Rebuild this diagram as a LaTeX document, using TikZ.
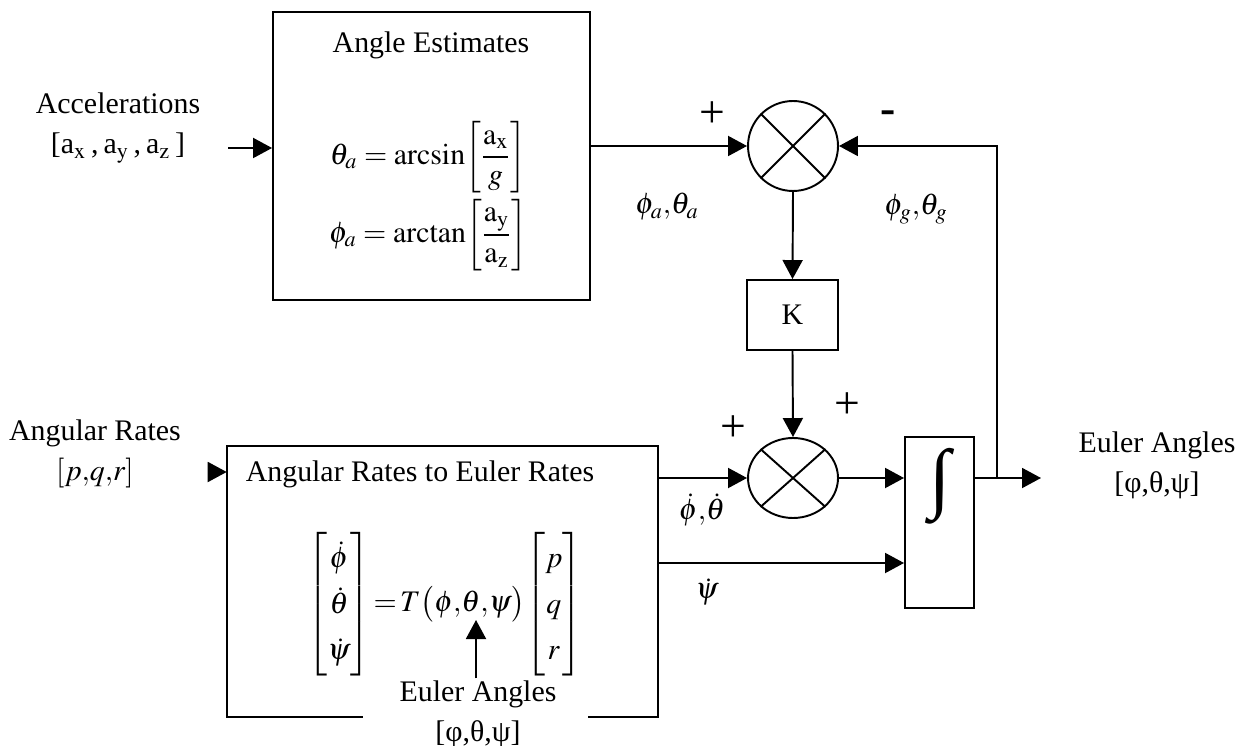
\documentclass[tikz,border=0pt]{standalone}
\usepackage{amsmath}
\usepackage{mathptmx}
\usepackage{fontspec}
\setmainfont{Liberation Serif}
\usetikzlibrary{shapes.geometric, arrows.meta, positioning, calc}
\tikzset{
  block/.style = {rectangle, draw, line width=1.1pt, inner sep=0pt},
  sumnode/.style = {circle, draw, line width=1.1pt, minimum size=1.8cm, inner sep=0pt},
  arrow/.style = {line width=1.1pt, -{Triangle[length=0.38cm,width=0.4cm]}},
  line/.style  = {line width=1.1pt},
  label/.style = {align=center, inner sep=1pt},
  sign/.style  = {inner sep=0pt, font=\fontsize{26}{26}\selectfont},
}

\begin{document}
\begin{tikzpicture}[x=0.02cm, y=-0.02cm, font=\fontsize{17}{22.7}\selectfont]
  \useasboundingbox (0,0) rectangle (1240,746);

  % blocks
  \node[block, minimum width=6.34cm, minimum height=5.76cm] (est) at (431.5,156) {};
  \node[label] (esttitle) at (431,45) {Angle Estimates};
  \node[label] (eqtheta) at (428,157) {$\theta_a = \arcsin\!\left[\dfrac{\mathrm{a}_{\mathrm{x}}}{g}\right]$};
  \node[label] (eqphi) at (428,235) {$\phi_a = \arctan\!\left[\dfrac{\mathrm{a}_{\mathrm{y}}}{\mathrm{a}_{\mathrm{z}}}\right]$};

  \node[sumnode] (sum1) at (793,146) {};
  \draw[line] (sum1.north west) -- (sum1.south east) (sum1.north east) -- (sum1.south west);

  \node[block, minimum width=1.82cm, minimum height=1.4cm] (gain) at (792.5,315) {K};

  \node[ellipse, draw, line width=1.1pt, minimum width=1.8cm, minimum height=1.6cm, inner sep=0pt] (sum2) at (793,478) {};
  \draw[line] (sum2.north west) -- (sum2.south east) (sum2.north east) -- (sum2.south west);

  \node[block, minimum width=1.38cm, minimum height=3.42cm] (int) at (939.5,522.5) {};
  \node[inner sep=0pt, font=\fontsize{44}{44}\selectfont\bfseries] (intsym) at (940,486) {∫};

  % angular rates block, open at the bottom
  \node[minimum width=8.62cm, minimum height=5.42cm, inner sep=0pt] (rates) at (442.5,581.5) {};
  \draw[line] ($(rates.south west)+(136,0)$) -- (rates.south west) -- (rates.north west)
    -- (rates.north east) -- (rates.south east) -- ++(-70,0);
  \node[label] (ratestitle) at (420,474) {Angular Rates to Euler Rates};
  {\renewcommand{\arraystretch}{1.15}\setlength{\arraycolsep}{2.5pt}
  \node[label] (eqrates) at (445,604) {$\begin{bmatrix}\dot{\phi}\\ \dot{\theta}\\ \dot{\psi}\end{bmatrix}\!=\!T\bigl(\phi{,}\theta{,}\psi\bigr)\!\begin{bmatrix}p\\ q\\ r\end{bmatrix}$};}
  \node[label] (eul2) at (478,714) {Euler Angles\\{[}φ,θ,ψ{]}};
  \coordinate (tin) at (476,620);
  \draw[arrow] (eul2.north -| tin) -- (tin);

  % inputs and outputs
  \node[label] (acc) at (118,128) {Accelerations\\{[}a$_{\mathrm{x}}$\,,\,a$_{\mathrm{y}}$\,,\,a$_{\mathrm{z}}$\,]};
  \coordinate (accin) at (228,148);
  \draw[arrow] (accin) -- (accin -| est.west);

  \node[label] (rin) at (95,454) {Angular Rates\\$[p{,}q{,}r]$};
  \coordinate (ratein) at (209,472);
  \draw[arrow] (ratein) -- (ratein -| rates.west);

  \node[label] (eul) at (1157,465) {Euler Angles\\{[}φ,θ,ψ{]}};
  \coordinate (out) at (1041,478);
  \coordinate (fb) at (997,478);

  % connectors
  \draw[arrow] (sum1.west -| est.east) -- (sum1.west);
  \draw[arrow] (sum1.south) -- (gain.north);
  \draw[arrow] (gain.south) -- (sum2.north);
  \draw[arrow] (sum2.west -| rates.east) -- (sum2.west);
  \draw[arrow] (sum2.east) -- (sum2.east -| int.west);
  \coordinate (psiout) at (658,563);
  \draw[arrow] (psiout) -- (psiout -| int.west);
  \draw[arrow] (sum2.east -| int.east) -- (out);
  \draw[arrow] (fb) |- (sum1.east);

  % signs and signal labels
  \node[sign] (p1) at (712,115) {+};
  \node[sign] (m1) at (888,117) {\textbf{-}};
  \node[sign] (p2) at (733,429) {+};
  \node[sign] (p3) at (847,406) {+};
  \node (sa) at (667,207) {$\phi_a{,}\theta_a$};
  \node (sg) at (916,209) {$\phi_g{,}\theta_g$};
  \node (sdot) at (702,510) {$\dot{\phi}{,}\dot{\theta}$};
  \node (spsi) at (707,592) {$\dot{\psi}$};
\end{tikzpicture}
\end{document}
